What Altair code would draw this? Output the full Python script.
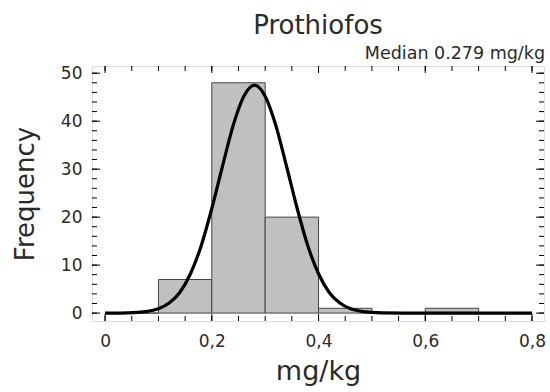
import altair as alt
import pandas as pd

# ---- data ----
bin_start = [0.0, 0.1, 0.2, 0.3, 0.4, 0.5, 0.6, 0.7]
bin_end = [0.1, 0.2, 0.3, 0.4, 0.5, 0.6, 0.7, 0.8]
counts = [0, 7, 48, 20, 1, 0, 1, 0]

curve_x = [0.00, 0.02, 0.04, 0.06, 0.08, 0.10, 0.12, 0.14, 0.16, 0.18, 0.20,
           0.22, 0.24, 0.26, 0.28, 0.30, 0.32, 0.34, 0.36, 0.38, 0.40, 0.42,
           0.44, 0.46, 0.48, 0.50, 0.52, 0.56, 0.60, 0.70, 0.80]
curve_y = [0.0, 0.0, 0.04, 0.13, 0.36, 0.9, 2.1, 4.3, 8.2, 14.0, 21.8,
           30.6, 39.1, 45.2, 47.5, 45.2, 39.1, 30.6, 21.8, 14.0, 8.2, 4.3,
           2.1, 0.9, 0.36, 0.13, 0.04, 0.0, 0.0, 0.0, 0.0]

x_tick_labels = [0.0, 0.2, 0.4, 0.6, 0.8]
x_minor = [round(i * 0.05, 2) for i in range(17)]
y_tick_labels = [0, 10, 20, 30, 40, 50]
y_minor = list(range(0, 51, 2))

title = "Prothiofos"
subtitle = "Median 0.279 mg/kg"
x_title = "mg/kg"
y_title = "Frequency"

W, H = 452, 255
FONT = "DejaVu Sans"
TXT = "#2a2a2a"
XDOM = [-0.0245, 0.8225]
YDOM = [-1.65, 51.5]

xs = alt.Scale(domain=XDOM, nice=False, zero=False)
ys = alt.Scale(domain=YDOM, nice=False, zero=False)

bars_df = pd.DataFrame({"x0": bin_start, "x1": bin_end, "n": counts})
curve_df = pd.DataFrame({"x": curve_x, "y": curve_y})

bars = alt.Chart(bars_df).mark_rect(
    fill="#c0c0c0", stroke="#444444", strokeWidth=1
).encode(
    x=alt.X("x0:Q", scale=xs, title=x_title,
            axis=alt.Axis(values=x_tick_labels, ticks=False, domain=False, grid=False,
                          labelExpr="replace(format(datum.value, '.1~f'), '.', ',')",
                          labelFontSize=17, labelFont=FONT, labelColor=TXT,
                          labelPadding=12, titleFontSize=27, titleFont=FONT,
                          titleFontWeight="normal", titleColor=TXT, titlePadding=9)),
    x2="x1:Q",
    y=alt.Y("n:Q", scale=ys, title=y_title,
            axis=alt.Axis(values=y_tick_labels, ticks=False, domain=False, grid=False,
                          labelFontSize=17, labelFont=FONT, labelColor=TXT,
                          labelPadding=10, titleFontSize=26, titleFont=FONT,
                          titleFontWeight="normal", titleColor=TXT, titlePadding=22)),
    y2=alt.datum(0),
)

curve = alt.Chart(curve_df).mark_line(
    color="black", strokeWidth=3.2, interpolate="monotone"
).encode(x=alt.X("x:Q", scale=xs), y=alt.Y("y:Q", scale=ys))

xmin_df = pd.DataFrame({"v": x_minor})
xmaj_df = pd.DataFrame({"v": x_tick_labels})
ymin_df = pd.DataFrame({"v": y_minor})
ymaj_df = pd.DataFrame({"v": y_tick_labels})

def xt(df, L):
    b = alt.Chart(df).mark_rule(color="black", strokeWidth=1).encode(
        x=alt.X("v:Q", scale=xs), y=alt.value(H), y2=alt.value(H - L))
    t = alt.Chart(df).mark_rule(color="black", strokeWidth=1).encode(
        x=alt.X("v:Q", scale=xs), y=alt.value(0), y2=alt.value(L))
    return b + t

def yt(df, L):
    l = alt.Chart(df).mark_rule(color="black", strokeWidth=1).encode(
        y=alt.Y("v:Q", scale=ys), x=alt.value(0), x2=alt.value(L))
    r = alt.Chart(df).mark_rule(color="black", strokeWidth=1).encode(
        y=alt.Y("v:Q", scale=ys), x=alt.value(W), x2=alt.value(W - L))
    return l + r

sub = alt.Chart(pd.DataFrame({"t": [subtitle]})).mark_text(
    align="right", baseline="alphabetic", fontSize=17.5, font=FONT, color=TXT
).encode(text="t:N", x=alt.value(W + 1), y=alt.value(-7))

chart = alt.layer(
    bars, curve, xt(xmin_df, 5), xt(xmaj_df, 7), yt(ymin_df, 5), yt(ymaj_df, 8), sub
).properties(
    width=W, height=H,
    title=alt.TitleParams(title, fontSize=26, font=FONT, fontWeight="normal",
                          color=TXT, anchor="middle", offset=6),
    autosize=alt.AutoSizeParams(type="none"),
    padding={"left": 92, "top": 66, "right": 6, "bottom": 71},
).configure_view(stroke="black", strokeWidth=1.5).configure(background="white")

chart.save("out.html", embed_options={"renderer": "svg", "actions": False})
